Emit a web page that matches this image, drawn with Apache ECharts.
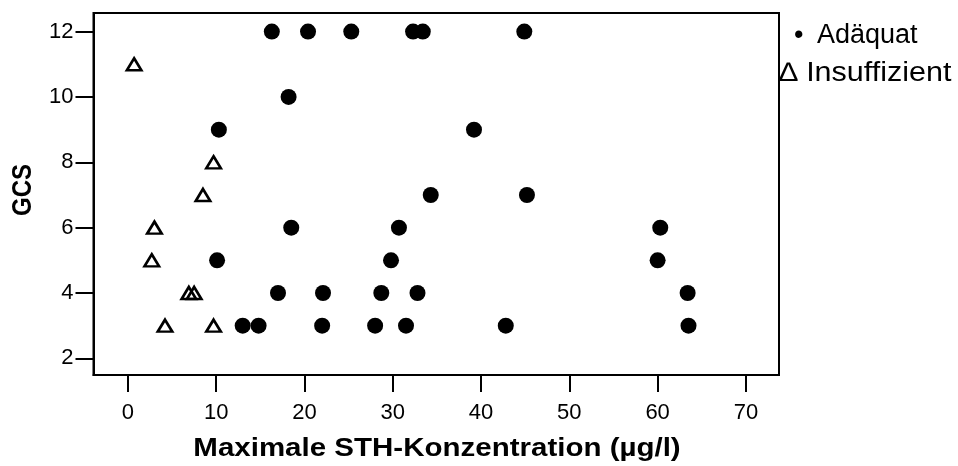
<!DOCTYPE html>
<html>
<head>
<meta charset="utf-8">
<script src="https://cdn.jsdelivr.net/npm/echarts@6/dist/echarts.min.js"></script>
<style>html,body{margin:0;padding:0;background:#fff}#c{width:958px;height:466px}</style>
</head>
<body>
<div id="c"></div>
<script>
// Adäquat (filled circles): [STH, GCS]
const adequateX = [16.3, 20.4, 25.3, 32.3, 33.4, 44.9, 18.2, 10.3, 39.2, 34.3, 45.2, 18.5, 30.7, 60.3, 10.1, 29.8, 60.0, 17.0, 22.1, 28.7, 32.8, 63.4, 13.0, 14.8, 22.0, 28.0, 31.5, 42.8, 63.5];
const adequateY = [12, 12, 12, 12, 12, 12, 10, 9, 9, 7, 7, 6, 6, 6, 5, 5, 5, 4, 4, 4, 4, 4, 3, 3, 3, 3, 3, 3, 3];
// Insuffizient (open triangles)
const insuffX = [0.7, 9.7, 8.5, 3.0, 2.7, 6.9, 7.5, 4.2, 9.7];
const insuffY = [11, 8, 7, 6, 5, 4, 4, 3, 3];
const xTicks = [0, 10, 20, 30, 40, 50, 60, 70];
const yTicks = [2, 4, 6, 8, 10, 12];
const xTitle = 'Maximale STH-Konzentration (µg/l)';
const yTitle = 'GCS';
const legendItems = ['•\u2002Adäquat', '\u2206 Insuffizient'];

const zip = (xs, ys) => xs.map((x, i) => [x, ys[i]]);
const FONT = 'Liberation Sans';
const chart = echarts.init(document.getElementById('c'), null, {renderer: 'canvas'});
chart.setOption({
  animation: false,
  grid: {left: 93.5, top: 13, width: 685.5, height: 362, show: true, borderColor: '#000', borderWidth: 2, backgroundColor: 'transparent'},
  xAxis: {
    type: 'value', min: -3.9, max: 73.75,
    splitLine: {show: false},
    axisLine: {show: true, onZero: false, lineStyle: {color: '#000', width: 2}},
    axisTick: {show: true, inside: false, length: 17, lineStyle: {color: '#000', width: 2}, customValues: xTicks},
    axisLabel: {customValues: xTicks, color: '#000', fontFamily: FONT, fontSize: 22, margin: 27}
  },
  yAxis: {
    type: 'value', min: 1.49, max: 12.57,
    splitLine: {show: false},
    axisLine: {show: true, onZero: false, lineStyle: {color: '#000', width: 2}},
    axisTick: {show: true, inside: false, length: 18, lineStyle: {color: '#000', width: 2}, customValues: yTicks},
    axisLabel: {customValues: yTicks, color: '#000', fontFamily: FONT, fontSize: 22, margin: 20}
  },
  series: [
    {type: 'scatter', name: 'Adäquat', data: zip(adequateX, adequateY), symbol: 'circle', symbolSize: 16,
     itemStyle: {color: '#000', opacity: 1}},
    {type: 'scatter', name: 'Insuffizient', data: zip(insuffX, insuffY), symbol: 'triangle', symbolSize: [14.5, 12],
     itemStyle: {color: 'rgba(255,255,255,0)', borderColor: '#000', borderWidth: 2.6, opacity: 1}}
  ],
  graphic: [
    {type: 'text', x: 437, y: 449, scaleX: 1.18,
     style: {text: xTitle, x: 0, y: 0, align: 'center', verticalAlign: 'middle', font: 'bold 25px "Liberation Sans"', fill: '#000'}},
    {type: 'text', x: 23, y: 190, rotation: Math.PI / 2, scaleY: 1.18,
     style: {text: yTitle, x: 0, y: 0, align: 'center', verticalAlign: 'middle', font: 'bold 24px "Liberation Sans"', fill: '#000'}},
    {type: 'text', x: 794, y: 35.5,
     style: {text: legendItems[0], x: 0, y: 0, align: 'left', verticalAlign: 'middle', font: '27px "Liberation Sans"', fill: '#000'}},
    {type: 'text', x: 779, y: 73.5, scaleX: 1.13,
     style: {text: legendItems[1], x: 0, y: 0, align: 'left', verticalAlign: 'middle', font: '27px "Liberation Sans"', fill: '#000'}}
  ]
});
</script>
</body>
</html>
